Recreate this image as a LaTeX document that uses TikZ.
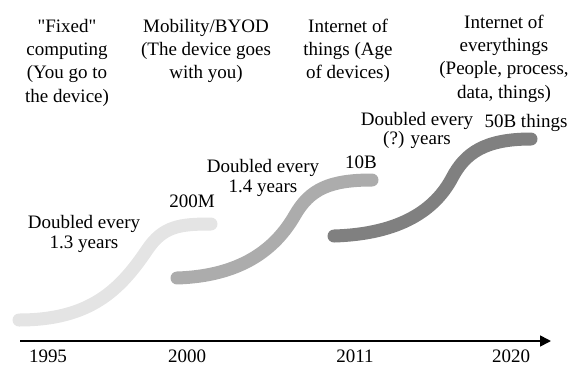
\documentclass[tikz,border=0pt]{standalone}
\usepackage{fontspec}
\setmainfont{Liberation Serif}[Ligatures=TeXOff]
\usetikzlibrary{arrows.meta}
\definecolor{cone}{RGB}{228,228,228}
\definecolor{ctwo}{RGB}{172,172,172}
\definecolor{cthree}{RGB}{128,128,128}
\tikzset{
  toplabel/.style={anchor=base, align=center, inner sep=0pt, font=\fontsize{19}{23.3}\selectfont},
  ratelabel/.style={anchor=base, align=center, inner sep=0pt, font=\fontsize{19}{20}\selectfont},
  yearlabel/.style={anchor=base, inner sep=0pt, font=\fontsize{19}{23}\selectfont},
  wave/.style={line width=13pt, line cap=round},
  axisline/.style={line width=1.6pt, -{Triangle[length=11pt,width=11pt]}}
}
\begin{document}
\begin{tikzpicture}[x=1pt,y=-1pt]
\useasboundingbox (0,0) rectangle (571,365);
% top labels (anchor = baseline of last line)
\node[toplabel] (t1) at (67,102) {"Fixed"\\computing\\(You go to\\the device)};
\node[toplabel] (t2) at (206,78.6) {Mobility/BYOD\\(The device goes\\with you)};
\node[toplabel] (t3) at (348,78.6) {Internet of\\things (Age\\of devices)};
\node[toplabel] (t4) at (504,98) {Internet of\\everythings\\(People, process,\\data, things)};
% curves
\draw[wave, cone] (19,320) .. controls (90,320) and (120,290) .. (147,250)
  .. controls (163,226) and (180,224) .. (211,224);
\draw[wave, ctwo] (177,278) .. controls (240,276) and (275,250) .. (295,215)
  .. controls (310,189) and (330,180) .. (372,180);
\draw[wave, cthree] (334,236) .. controls (400,234) and (435,210) .. (452,178)
  .. controls (465,153) and (485,139) .. (531,139);
% rate labels
\node[ratelabel] (d1) at (84,248) {Doubled every\\1.3 years};
\node[ratelabel] (v1) at (192,207) {200M};
\node[ratelabel] (d2) at (263,192) {Doubled every\\1.4 years};
\node[ratelabel] (v2) at (361,168) {10B};
\node[ratelabel, font=\fontsize{19}{17}\selectfont] (d3) at (417,144) {Doubled every\\(?) years};
\node[ratelabel] (v3) at (526,127) {50B things};
% axis
\coordinate (a0) at (20,341);
\coordinate (a1) at (551,341);
\draw[axisline] (a0) -- (a1);
\node[yearlabel] (y1) at (48,362) {1995};
\node[yearlabel] (y2) at (187,362) {2000};
\node[yearlabel] (y3) at (355,362) {2011};
\node[yearlabel] (y4) at (511,362) {2020};
\end{tikzpicture}
\end{document}
